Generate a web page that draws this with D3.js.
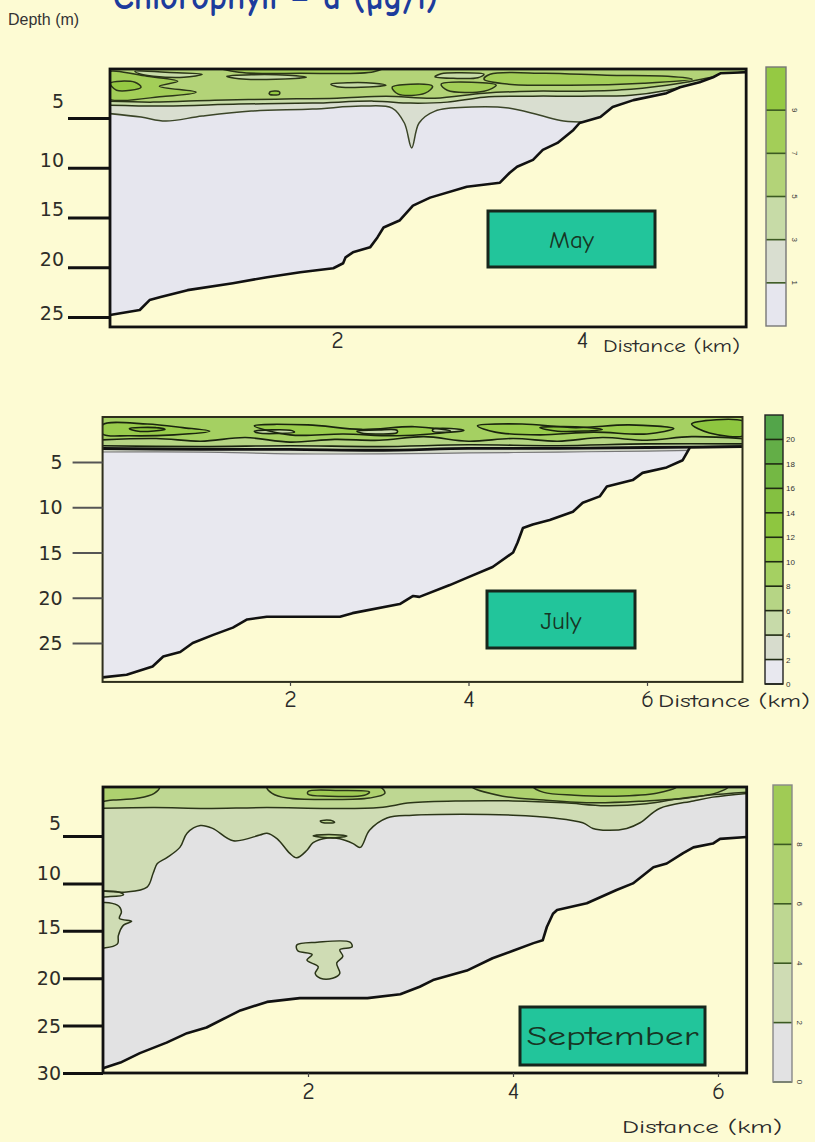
<!DOCTYPE html>
<html>
<head>
<meta charset="utf-8">
<script src="https://d3js.org/d3.v7.min.js"></script>
<style>
  body { margin: 0; background: #fdfbd3; }
  svg { display: block; }
</style>
</head>
<body>
<svg id="chart" width="815" height="1142"></svg>
<script>
// ---------- May ----------
var mayDepthTicks = [5, 10, 15, 20, 25];
var mayDistTicks = [2, 4];
var mayLevels = [1, 3, 5, 7, 9];
var mayColors = ["#e6e6ee", "#d9ded0", "#c7dba7", "#b3d378", "#a3ce58", "#95c943"];
// bottom profile [km, depth m]
var mayBottom = [[0.147,24.8],[0.39,24.3],[0.47,23.3],[0.56,23.0],[0.78,22.3],[1.15,21.6],[1.43,21.0],[1.70,20.5],[1.97,20.1],[2.05,19.6],[2.07,19.0],[2.13,18.5],[2.27,18.0],[2.33,17.0],[2.38,16.0],[2.51,15.3],[2.62,13.8],[2.76,13.0],[3.06,11.9],[3.33,11.5],[3.41,10.5],[3.47,9.9],[3.60,9.2],[3.68,8.2],[3.80,7.5],[3.93,6.2],[3.98,5.5],[4.15,4.9],[4.25,3.9],[4.42,3.2],[4.69,2.5],[4.80,1.9],[4.96,1.4],[5.07,0.9],[5.13,0.5],[5.34,0.4]];
var mayLine1 = [[0.1,4.5],[0.4,4.9],[0.6,5.3],[0.9,4.8],[1.3,4.3],[1.8,4.1],[2.2,3.8],[2.45,4.0],[2.55,5.5],[2.61,8.0],[2.67,5.5],[2.8,4.3],[3.1,3.9],[3.4,4.0],[3.65,4.7],[3.85,5.3],[4.1,5.4],[4.4,5.2],[5.4,5.2]];
var mayLine3 = [[0.1,3.7],[0.6,3.8],[1.2,3.6],[1.8,3.5],[2.3,3.3],[2.6,3.5],[2.9,3.4],[3.2,2.9],[3.6,2.8],[4.0,2.8],[4.4,2.7],[4.7,2.2],[5.0,1.3],[5.4,0.3]];
var mayLine5 = [[0.1,3.3],[0.5,3.4],[1.0,3.2],[1.5,3.1],[2.0,3.0],[2.4,2.8],[2.8,3.0],[3.2,2.5],[3.6,2.3],[4.0,2.3],[4.4,2.1],[4.8,1.5],[5.1,0.8],[5.4,0.2]];
var mayPatches7 = [
  [[0.1,0.5],[0.45,0.8],[0.7,1.3],[0.55,1.8],[0.85,2.4],[0.6,2.8],[0.1,2.9]],
  [[3.25,0.6],[3.7,0.5],[4.2,0.7],[4.7,0.8],[4.9,1.1],[4.5,1.5],[3.9,1.7],[3.4,1.6],[3.2,1.1]],
  [[1.0,-0.2],[2.4,-0.2],[2.3,0.35],[1.7,0.5],[1.2,0.4]],
  [[2.85,1.6],[3.1,1.4],[3.3,1.7],[3.2,2.3],[2.9,2.2]]
];
var mayPatches9 = [
  [[2.45,1.9],[2.6,1.6],[2.78,1.8],[2.72,2.5],[2.5,2.6]],
  [[0.15,1.5],[0.35,1.4],[0.4,1.9],[0.2,2.2]],
  [[1.45,2.4],[1.53,2.35],[1.53,2.6],[1.45,2.62]]
];
var mayPockets3 = [
  [[1.1,0.8],[1.3,0.65],[1.6,0.7],[1.75,0.9],[1.5,1.1],[1.2,1.05]],
  [[1.95,1.6],[2.1,1.45],[2.3,1.5],[2.4,1.7],[2.2,1.9],[2.0,1.85]],
  [[2.85,0.55],[3.0,0.45],[3.2,0.6],[3.15,0.95],[2.95,1.0],[2.8,0.85]],
  [[0.35,0.3],[0.6,0.4],[0.9,0.6],[0.75,0.9],[0.5,0.8],[0.4,0.6]]
];

// ---------- July ----------
var julyDepthTicks = [5, 10, 15, 20, 25];
var julyDistTicks = [2, 4, 6];
var julyLevels = [0, 2, 4, 6, 8, 10, 12, 14, 16, 18, 20];
var julyColors = ["#e8e8ef", "#d7dccd", "#c7daa9", "#b6d585", "#a5d062", "#99cc4c", "#8ec640", "#84c041", "#74b844", "#63ae47", "#53a54a"];
var julyBottom = [[-0.1,28.8],[0.17,28.5],[0.46,27.6],[0.58,26.5],[0.77,26.0],[0.91,25.0],[1.14,24.1],[1.36,23.3],[1.52,22.4],[1.74,22.1],[2.56,22.1],[2.70,21.7],[3.23,20.7],[3.38,19.8],[3.45,19.9],[3.79,18.6],[3.98,17.8],[4.27,16.6],[4.50,15.0],[4.55,13.9],[4.61,12.3],[4.72,11.9],[4.91,11.4],[5.17,10.5],[5.28,9.5],[5.47,8.8],[5.55,7.7],[5.84,7.0],[5.95,6.2],[6.22,5.6],[6.40,4.8],[6.48,3.4],[7.07,3.3]];
var julyLine2 = [[-0.2,3.9],[1,3.9],[2,4.1],[3,4.1],[4,4.0],[5,3.9],[6,3.8],[7.2,3.6]];
var julyLine4 = [[-0.2,3.5],[1,3.6],[2,3.6],[3,3.7],[4,3.5],[5,3.5],[6,3.4],[7.2,3.3]];
var julyLine6 = [[-0.2,3.2],[1,3.3],[2,3.2],[3,3.3],[4,3.1],[5,3.2],[6,3.0],[7.2,3.0]];
var julyLine8 = [[-0.2,2.6],[0.5,2.4],[1.0,2.7],[1.5,2.3],[2.0,2.8],[2.5,2.5],[3.0,2.6],[3.5,2.2],[4.0,2.7],[4.5,2.4],[5.0,2.7],[5.5,2.3],[6.0,2.6],[6.5,2.2],[7.2,2.5]];
var julyPatches10 = [
  [[-0.1,0.9],[0.4,0.8],[0.8,1.2],[1.1,1.6],[0.7,2.0],[0.2,2.1],[-0.1,1.9]],
  [[1.6,1.0],[2.2,0.9],[2.8,1.4],[3.4,1.1],[3.8,1.6],[3.2,2.1],[2.6,1.9],[2.0,2.0]],
  [[4.1,1.0],[4.6,0.8],[5.2,1.2],[5.8,0.9],[6.3,1.3],[6.0,1.9],[5.4,1.7],[4.8,2.0],[4.3,1.7]]
];
var julyPatches12 = [
  [[0.2,1.3],[0.5,1.2],[0.6,1.4],[0.3,1.6]],
  [[4.8,1.2],[5.2,1.1],[5.5,1.4],[5.0,1.6]],
  [[6.5,0.8],[7.1,0.6],[7.1,2.0],[6.7,1.8]]
];
var julyPockets = [
  [[1.6,1.6],[1.8,1.45],[2.0,1.5],[2.05,1.7],[1.85,1.85],[1.65,1.8]],
  [[2.75,1.6],[3.0,1.45],[3.2,1.5],[3.2,1.75],[3.0,1.9],[2.8,1.8]],
  [[3.6,1.4],[3.8,1.3],[3.95,1.5],[3.8,1.7],[3.6,1.6]]
];

// ---------- September ----------
var septDepthTicks = [5, 10, 15, 20, 25, 30];
var septDistTicks = [2, 4, 6];
var septLevels = [0, 2, 4, 6, 8];
var septColors = ["#e2e2e3", "#cfdcb4", "#bed792", "#aed16f", "#a0cb55"];
var septBottom = [[0,29.5],[0.17,28.9],[0.36,27.9],[0.62,26.8],[0.82,25.8],[1.01,25.2],[1.21,24.1],[1.34,23.4],[1.60,22.5],[1.92,22.1],[2.58,22.1],[2.90,21.7],[3.09,20.9],[3.22,20.2],[3.55,19.2],[3.80,17.9],[4.00,17.1],[4.20,16.3],[4.29,16.0],[4.33,14.6],[4.39,13.2],[4.43,12.8],[4.72,12.1],[5.01,10.7],[5.17,10.0],[5.37,8.3],[5.50,7.9],[5.66,6.8],[5.76,6.2],[5.95,5.8],[6.02,5.3],[6.28,5.1]];
var septLine2 = [[-0.1,10.7],[0.23,10.9],[0.43,10.4],[0.49,8.9],[0.53,7.9],[0.62,7.3],[0.75,6.2],[0.82,4.7],[0.95,3.9],[1.07,4.2],[1.27,5.5],[1.53,4.9],[1.60,4.7],[1.70,5.3],[1.82,6.8],[1.89,7.3],[1.99,6.5],[2.05,5.7],[2.19,5.2],[2.31,5.3],[2.44,5.8],[2.51,6.2],[2.60,4.4],[2.77,3.1],[3.02,2.8],[3.5,2.7],[4.0,2.8],[4.4,3.1],[4.68,3.6],[4.78,4.2],[4.92,4.4],[5.11,4.2],[5.24,3.6],[5.43,2.1],[5.76,1.3],[5.95,0.9],[6.4,0.4]];
var septLine4 = [[-0.1,2.1],[0.5,2.0],[1.0,2.1],[1.6,2.0],[2.2,2.1],[2.7,2.0],[3.0,1.5],[3.5,1.3],[4.0,1.3],[4.5,1.5],[4.9,1.8],[5.3,1.6],[5.6,1.1],[5.9,0.7],[6.4,0.3]];
var septPatches6 = [
  [[-0.1,-0.2],[0.55,-0.2],[0.5,0.5],[0.35,1.0],[0.1,1.2],[-0.1,1.3]],
  [[1.6,-0.2],[2.7,-0.2],[2.75,0.5],[2.6,1.0],[2.2,1.15],[1.8,1.0],[1.65,0.5]],
  [[3.6,-0.2],[6.1,-0.2],[6.0,0.4],[5.7,1.0],[5.3,1.3],[4.8,1.5],[4.3,1.2],[3.9,0.8]]
];
var septPatches8 = [
  [[2.0,0.3],[2.3,0.2],[2.6,0.35],[2.55,0.7],[2.2,0.8],[2.0,0.6]],
  [[4.2,-0.2],[5.6,-0.2],[5.4,0.5],[5.0,0.8],[4.6,0.7],[4.3,0.4]]
];
var septPockets2 = [
  [[-0.1,12.3],[0.14,12.3],[0.18,13.0],[0.16,13.7],[0.28,14.0],[0.2,14.4],[0.15,15.5],[0.14,16.4],[-0.1,16.6]],
  [[1.89,16.5],[2.09,16.2],[2.41,16.2],[2.43,16.7],[2.31,17.0],[2.34,17.7],[2.28,18.4],[2.31,19.5],[2.24,20.0],[2.12,20.0],[2.07,19.5],[2.10,18.8],[1.99,18.1],[2.04,17.5],[1.90,17.1]],
  [[-0.1,11.0],[0.15,10.9],[0.2,11.2],[0.05,11.4],[-0.1,11.4]]
];
var septPockets4 = [
  [[2.12,3.4],[2.22,3.35],[2.26,3.55],[2.15,3.6]],
  [[2.05,5.0],[2.2,4.85],[2.38,5.0],[2.25,5.2]]
];

var comic = "'Comic Sans MS', 'Comic Neue', 'DejaVu Sans', sans-serif";
var arial = "'Liberation Sans', Arial, sans-serif";
var dejavu = "'DejaVu Sans', sans-serif";
var svg = d3.select("#chart");

svg.append("rect").attr("width", 815).attr("height", 1142).attr("fill", "#fdfbd3");

// title, cut off at the top edge
svg.append("text")
  .attr("x", 113).attr("y", 9)
  .attr("font-family", comic).attr("font-weight", "bold")
  .attr("font-size", 38).attr("fill", "#1d3c9c")
  .attr("textLength", 325).attr("lengthAdjust", "spacingAndGlyphs")
  .text("Chlorophyll \u2013 a (\u00b5g/l)");

svg.append("text")
  .attr("x", 8).attr("y", 25)
  .attr("font-family", arial).attr("font-size", 16).attr("fill", "#333")
  .text("Depth (m)");

function drawPanel(p) {
  var x = d3.scaleLinear().domain(p.xDomain).range(p.xRange);
  var y = d3.scaleLinear().domain(p.yDomain).range(p.yRange);
  var bottom = p.bottom;
  var x0 = x(bottom[0][0]), x1 = x(bottom[bottom.length - 1][0]);
  var yTop = p.top, yBase = y(p.maxDepth);
  var g = svg.append("g").attr("class", p.id);

  var waterArea = d3.area().x(function(d) { return x(d[0]); }).y0(yTop).y1(function(d) { return y(d[1]); });
  g.append("clipPath").attr("id", "clip-" + p.id)
    .append("path").attr("d", waterArea(bottom));
  var inner = g.append("g").attr("clip-path", "url(#clip-" + p.id + ")");
  inner.append("path").attr("d", waterArea(bottom)).attr("fill", p.colors[0]);

  var smooth = d3.curveCatmullRom.alpha(0.5);
  var bandArea = d3.area().x(function(d) { return x(d[0]); }).y0(yTop - 5).y1(function(d) { return y(d[1]); }).curve(smooth);
  var bandLine = d3.line().x(function(d) { return x(d[0]); }).y(function(d) { return y(d[1]); }).curve(smooth);
  var blobLine = d3.line().x(function(d) { return x(d[0]); }).y(function(d) { return y(d[1]); }).curve(d3.curveCatmullRomClosed.alpha(0.5));

  // fills first, then the contour lines on top
  p.layers.forEach(function(l) {
    if (l.type === "band") {
      inner.append("path").attr("d", bandArea(l.pts)).attr("fill", l.color);
    } else {
      inner.selectAll(null).data(l.pts).enter().append("path")
        .attr("d", blobLine).attr("fill", l.color);
    }
  });
  p.layers.forEach(function(l) {
    var sel;
    if (l.type === "band") {
      sel = inner.append("path").attr("d", bandLine(l.pts));
    } else {
      sel = inner.selectAll(null).data(l.pts).enter().append("path").attr("d", blobLine);
    }
    sel.attr("fill", "none")
      .attr("stroke", l.stroke || p.lineColor)
      .attr("stroke-width", l.width || p.lineWidth)
      .attr("stroke-linejoin", "round");
  });

  // bottom profile
  g.append("path")
    .attr("d", d3.line().x(function(d) { return x(d[0]); }).y(function(d) { return y(d[1]); })(bottom))
    .attr("fill", "none").attr("stroke", "#111").attr("stroke-width", 2.6)
    .attr("stroke-linejoin", "round");

  // frame
  g.append("rect")
    .attr("x", x0).attr("y", yTop).attr("width", x1 - x0).attr("height", yBase - yTop)
    .attr("fill", "none").attr("stroke", p.frameColor).attr("stroke-width", p.frameWidth);

  // depth axis
  var ya = g.append("g").attr("transform", "translate(" + x0 + ",0)")
    .call(d3.axisLeft(y).tickValues(p.depthTicks).tickSize(p.yTickSize).tickPadding(p.yTickPad));
  ya.select(".domain").remove();
  ya.selectAll("line").attr("stroke", p.tickColor).attr("stroke-width", p.tickWidth);
  ya.selectAll("text")
    .attr("font-family", dejavu).attr("font-size", 19).attr("fill", "#2d2d28")
    .attr("dy", function(d) { return (6.5 + (p.labelShift[d] || 0)) + "px"; });

  // distance axis
  var xa = g.append("g").attr("transform", "translate(0," + yBase + ")")
    .call(d3.axisBottom(x).tickValues(p.distTicks).tickFormat(d3.format("d"))
      .tickSize(p.xTickSize).tickPadding(p.xTickPad));
  xa.select(".domain").remove();
  xa.selectAll("line").attr("stroke", "#444").attr("stroke-width", 1.2);
  xa.selectAll("text").attr("font-family", comic).attr("font-size", 24).attr("fill", "#2a2a2a");

  g.append("text")
    .attr("x", p.distLabel[0]).attr("y", p.distLabel[1])
    .attr("font-family", comic).attr("font-size", 19).attr("fill", "#2a2a2a")
    .attr("textLength", p.distLabel[2]).attr("lengthAdjust", "spacingAndGlyphs")
    .text("Distance (km)");

  // month box
  var b = p.box;
  g.append("rect").attr("x", b.x).attr("y", b.y).attr("width", b.w).attr("height", b.h)
    .attr("fill", "#22c59b").attr("stroke", "#17261c").attr("stroke-width", 3);
  var t = g.append("text")
    .attr("x", b.x + b.w / 2).attr("y", b.y + b.h / 2 + b.size * 0.36)
    .attr("text-anchor", "middle")
    .attr("font-family", comic).attr("font-size", b.size).attr("fill", "#173524")
    .text(b.text);
  if (b.len) t.attr("textLength", b.len).attr("lengthAdjust", "spacingAndGlyphs");

  drawColorbar(p);
}

function drawColorbar(p) {
  var c = p.bar;
  var n = p.colors.length;
  var offset = n - p.levels.length; // 1 when the lowest band is open
  var yb = d3.scaleLinear().domain([0, n]).range([c.y + c.h, c.y]);
  var g = svg.append("g");
  g.selectAll("rect.band").data(p.colors).enter().append("rect")
    .attr("class", "band")
    .attr("x", c.x).attr("y", function(d, i) { return yb(i + 1); })
    .attr("width", c.w).attr("height", function(d, i) { return yb(i) - yb(i + 1); })
    .attr("fill", function(d) { return d; });
  g.selectAll("line.edge").data(p.levels).enter().append("line")
    .attr("class", "edge")
    .attr("x1", c.x).attr("x2", c.x + c.w)
    .attr("y1", function(d, i) { return yb(i + offset); })
    .attr("y2", function(d, i) { return yb(i + offset); })
    .attr("stroke", c.edge).attr("stroke-width", 1.6);
  g.append("rect").attr("x", c.x).attr("y", c.y).attr("width", c.w).attr("height", c.h)
    .attr("fill", "none").attr("stroke", c.outline).attr("stroke-width", 1.4);
  g.selectAll("text").data(p.levels).enter().append("text")
    .attr("transform", function(d, i) {
      var ty = yb(i + offset);
      return c.rotate ? "translate(" + c.labelX + "," + ty + ") rotate(90)" : "translate(" + c.labelX + "," + (ty + 3) + ")";
    })
    .attr("text-anchor", c.rotate ? "middle" : "start")
    .attr("font-family", arial).attr("font-size", 8).attr("fill", "#333")
    .text(function(d) { return d; });
}

var line = "#2b3518";

drawPanel({
  id: "may", xDomain: [0, 4], xRange: [92, 582], yDomain: [0, 25], yRange: [68.3, 317],
  top: 69, maxDepth: 26, bottom: mayBottom, colors: mayColors, levels: mayLevels,
  depthTicks: mayDepthTicks, distTicks: mayDistTicks,
  lineColor: line, lineWidth: 1.5, frameColor: "#111", frameWidth: 2.8,
  tickColor: "#111", tickWidth: 3, yTickSize: 42, yTickPad: 4,
  labelShift: {5: -17, 10: -8, 15: -9, 20: -8, 25: -4},
  xTickSize: 0, xTickPad: 4, distLabel: [603, 352, 137],
  layers: [
    {type: "band", pts: mayLine1, color: mayColors[1], stroke: "#3b4528"},
    {type: "band", pts: mayLine3, color: mayColors[2]},
    {type: "band", pts: mayLine5, color: mayColors[3]},
    {type: "blob", pts: mayPatches7, color: mayColors[4]},
    {type: "blob", pts: mayPatches9, color: mayColors[5]},
    {type: "blob", pts: mayPockets3, color: mayColors[2]}
  ],
  box: {x: 488, y: 211, w: 167, h: 56, text: "May", size: 25},
  bar: {x: 766, y: 67, w: 20, h: 259, labelX: 792, rotate: true, edge: "#3c5a22", outline: "#777"}
});

drawPanel({
  id: "july", xDomain: [2, 6], xRange: [290, 647], yDomain: [5, 25], yRange: [462, 643],
  top: 417, maxDepth: 29.3, bottom: julyBottom, colors: julyColors, levels: julyLevels,
  depthTicks: julyDepthTicks, distTicks: julyDistTicks,
  lineColor: "#1a240e", lineWidth: 1.6, frameColor: "#2e2e1c", frameWidth: 2,
  tickColor: "#555", tickWidth: 2, yTickSize: 30, yTickPad: 10,
  labelShift: {},
  xTickSize: 4, xTickPad: 4, distLabel: [658, 707, 152],
  layers: [
    {type: "band", pts: julyLine2, color: julyColors[1], stroke: "#777", width: 1.2},
    {type: "band", pts: julyLine4, color: julyColors[2], stroke: "#111", width: 2.8},
    {type: "band", pts: julyLine6, color: julyColors[3]},
    {type: "band", pts: julyLine8, color: julyColors[4]},
    {type: "blob", pts: julyPatches10, color: julyColors[5]},
    {type: "blob", pts: julyPatches12, color: julyColors[6]},
    {type: "blob", pts: julyPockets, color: julyColors[2]}
  ],
  box: {x: 487, y: 591, w: 148, h: 57, text: "July", size: 25},
  bar: {x: 765, y: 415, w: 18, h: 269, labelX: 786, rotate: false, edge: "#1f2a12", outline: "#222"}
});

drawPanel({
  id: "sept", xDomain: [2, 6], xRange: [308, 718], yDomain: [5, 30], yRange: [836, 1073],
  top: 787, maxDepth: 30, bottom: septBottom, colors: septColors, levels: septLevels,
  depthTicks: septDepthTicks, distTicks: septDistTicks,
  lineColor: line, lineWidth: 1.5, frameColor: "#111", frameWidth: 2.8,
  tickColor: "#111", tickWidth: 3, yTickSize: 40, yTickPad: 2,
  labelShift: {5: -13, 10: -10, 15: -4},
  xTickSize: 4, xTickPad: 5, distLabel: [622, 1133, 160],
  layers: [
    {type: "band", pts: septLine2, color: septColors[1]},
    {type: "band", pts: septLine4, color: septColors[2]},
    {type: "blob", pts: septPatches6, color: septColors[3]},
    {type: "blob", pts: septPatches8, color: septColors[4]},
    {type: "blob", pts: septPockets2, color: septColors[1]},
    {type: "blob", pts: septPockets4, color: septColors[2]}
  ],
  box: {x: 520, y: 1007, w: 185, h: 58, text: "September", size: 26, len: 172},
  bar: {x: 773, y: 785, w: 19, h: 297, labelX: 797, rotate: true, edge: "#3c5a22", outline: "#888"}
});
</script>
</body>
</html>
